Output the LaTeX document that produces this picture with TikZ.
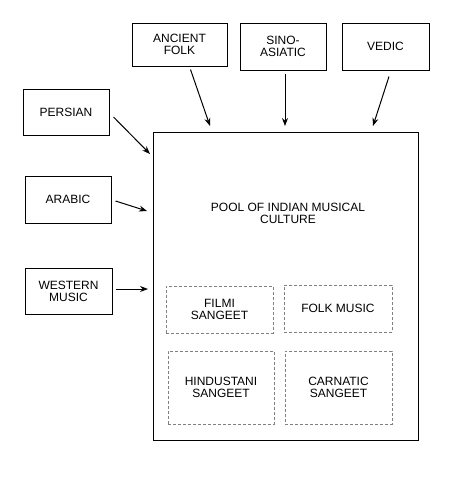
\documentclass[tikz,border=0pt]{standalone}
\usepackage{fontspec}
\setmainfont{Liberation Sans}
\usetikzlibrary{arrows.meta}
\begin{document}
\begin{tikzpicture}[x=1pt,y=-1pt,
  src/.style={draw,line width=1pt,inner sep=0pt,align=center,font=\fontsize{12}{12}\selectfont},
  sub/.style={draw,densely dashed,gray,line width=0.5pt,inner sep=0pt,align=center,text=black,font=\fontsize{12}{12}\selectfont},
  arr/.style={-{Stealth[length=8pt,width=6pt]},line width=1pt}]
\useasboundingbox (0,0) rectangle (450,480);
\node[src,minimum width=95pt,minimum height=43pt] (anc) at (179.5,44.5) {ANCIENT\\FOLK};
\node[src,minimum width=86pt,minimum height=47pt] (sino) at (283,46.5) {SINO-\\ASIATIC};
\node[src,minimum width=87pt,minimum height=47pt] (ved) at (385.5,46.5) {VEDIC};
\node[src,minimum width=86pt,minimum height=46pt] (per) at (66,112) {PERSIAN};
\node[src,minimum width=86pt,minimum height=47pt] (ara) at (68,199.5) {ARABIC};
\node[src,minimum width=87pt,minimum height=46pt] (wes) at (68.5,291) {WESTERN\\MUSIC};
\node[draw,line width=1pt,minimum width=265pt,minimum height=308pt,inner sep=0pt] (pool) at (285.5,286) {};
\node[align=center,font=\fontsize{12}{12}\selectfont] (pooltxt) at (288,213) {POOL OF INDIAN MUSICAL\\CULTURE};
\node[sub,minimum width=107pt,minimum height=47pt] (film) at (219.5,309.5) {FILMI\\SANGEET};
\node[sub,minimum width=108pt,minimum height=47pt] (folk) at (338,308.5) {FOLK MUSIC};
\node[sub,minimum width=106pt,minimum height=73pt] (hin) at (221,387.5) {HINDUSTANI\\SANGEET};
\node[sub,minimum width=107pt,minimum height=73pt] (car) at (338.5,387.5) {CARNATIC\\SANGEET};
\coordinate (ancE) at (210,126);
\coordinate (sinoE) at (285,126);
\coordinate (vedE) at (373,126);
\coordinate (perE) at (150,154);
\coordinate (araE) at (147,211);
\coordinate (wesE) at (148,289);
\draw[arr] (anc.south) ++(11,3) -- (ancE);
\draw[arr] (sino.south) ++(2,3) -- (sinoE);
\draw[arr] (ved.south) ++(3.5,6) -- (vedE);
\draw[arr] (per.east) ++(4,5) -- (perE);
\draw[arr] (ara.east) ++(4,1.5) -- (araE);
\draw[arr] (wes.east) ++(3,-2) -- (wesE);
\end{tikzpicture}
\end{document}
